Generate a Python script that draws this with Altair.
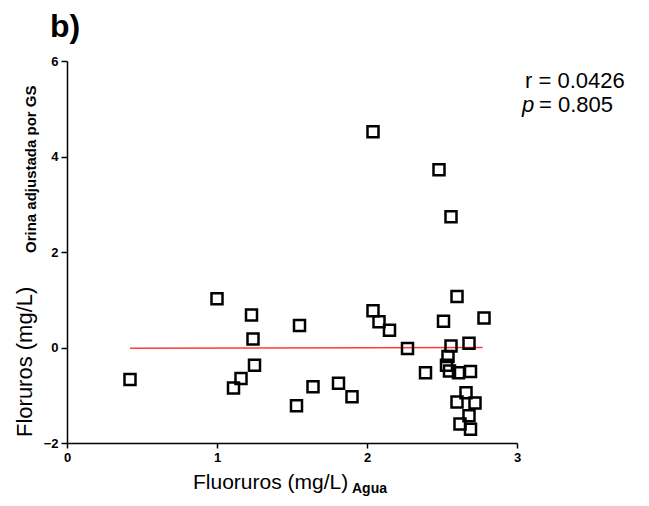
import altair as alt
import pandas as pd

# Fluoruros en agua (mg/L)
fluor_agua = [0.42, 1.00, 1.23, 1.24, 1.25, 1.16, 1.11, 1.55, 1.64, 1.53, 1.81, 1.90,
              2.04, 2.04, 2.08, 2.15, 2.27, 2.39, 2.48, 2.56, 2.60, 2.51, 2.78, 2.56,
              2.68, 2.54, 2.53, 2.55, 2.61, 2.69, 2.66, 2.60, 2.72, 2.68, 2.62, 2.69]
# Fluoruros en orina ajustada por GS (mg/L)
fluor_orina = [-0.67, 1.02, 0.68, 0.18, -0.37, -0.65, -0.85, 0.46, -0.82, -1.22, -0.75, -1.03,
               4.52, 0.77, 0.54, 0.36, -0.02, -0.53, 3.72, 2.74, 1.07, 0.55, 0.62, 0.03,
               0.09, -0.19, -0.37, -0.49, -0.53, -0.50, -0.95, -1.14, -1.16, -1.43, -1.60, -1.71]

# regression line (near-zero slope)
reg_x = [0.42, 2.77]
reg_y = [-0.015, 0.0]

x_ticks = [0, 1, 2, 3]
y_ticks = [-2, 0, 2, 4, 6]

FONT = "Liberation Sans"

pts = pd.DataFrame({"agua": fluor_agua, "orina": fluor_orina})
reg = pd.DataFrame({"agua": reg_x, "orina": reg_y})

xscale = alt.Scale(domain=[0, 3], nice=False, zero=False)
yscale = alt.Scale(domain=[-2, 6], nice=False, zero=False)

xaxis = alt.Axis(values=x_ticks, title=None, grid=False, tickSize=5, labelPadding=3,
                 labelFlush=False, labelOverlap=False, format="d")
yaxis = alt.Axis(values=y_ticks, title=None, grid=False, tickSize=6, labelPadding=3,
                 labelFlush=False, labelOverlap=False, format="d")

points = alt.Chart(pts).mark_point(
    shape="square", filled=False, size=121, strokeWidth=2.5, color="black", opacity=1
).encode(
    x=alt.X("agua:Q", scale=xscale, axis=xaxis),
    y=alt.Y("orina:Q", scale=yscale, axis=yaxis),
)

line = alt.Chart(reg).mark_line(color="#ff3b3b", strokeWidth=1.6).encode(
    x=alt.X("agua:Q", scale=xscale, axis=xaxis),
    y=alt.Y("orina:Q", scale=yscale, axis=yaxis),
)

one = pd.DataFrame({"k": [0]})


def txt(text, x, y, size, weight="normal", style="normal", angle=0, align="left"):
    return alt.Chart(one).mark_text(
        text=text, font=FONT, fontSize=size, fontWeight=weight, fontStyle=style,
        angle=angle, align=align, baseline="alphabetic", color="black"
    ).encode(x=alt.value(x), y=alt.value(y))


labels = [
    txt("b)", -17, -24, 32, weight="bold"),
    txt("r = 0.0426", 458, 27, 22),
    txt("p", 455, 51, 22, style="italic"),
    txt("= 0.805", 472, 51, 22),
    txt("Fluoruros (mg/L)", 126, 428, 21),
    txt("Agua", 285, 432, 14, weight="bold"),
    txt("Floruros (mg/L)", -35, 376, 22, angle=270),
    txt("Orina adjustada por GS", -31, 192, 15, weight="bold", angle=270),
]

chart = alt.layer(line, points, *labels).properties(
    width=450, height=382,
    autosize=alt.AutoSizeParams(type="none"),
    padding={"left": 67, "top": 61, "right": 132, "bottom": 63},
    background="white",
).configure_view(stroke=None).configure_axis(
    domainColor="black", domainWidth=1.5, tickColor="black", tickWidth=1.5,
    labelFont=FONT, labelFontWeight="bold", labelFontSize=13, labelColor="black",
)

chart.save("out.html", embed_options={"renderer": "svg", "actions": False})
